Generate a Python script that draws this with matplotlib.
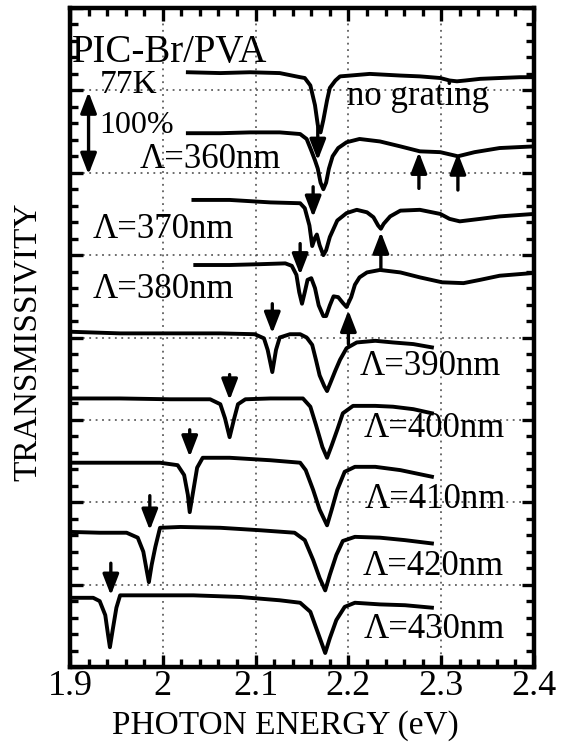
import matplotlib
matplotlib.use('Agg')
import matplotlib.pyplot as plt
from matplotlib.ticker import MultipleLocator

# spectra, stacked with offsets (1 unit on the y axis = 100 % transmission)
e_none = [2.027, 2.062, 2.094, 2.126, 2.148, 2.153, 2.159, 2.164, 2.167, 2.170, 2.173, 2.177, 2.180, 2.186,
	2.191, 2.202, 2.223, 2.256, 2.277, 2.299, 2.309, 2.317, 2.326, 2.342, 2.363, 2.385, 2.400]
t_none = [7.22, 7.21, 7.22, 7.21, 7.16, 7.15, 7.06, 6.82, 6.58, 6.49, 6.64, 6.88, 7.03, 7.12,
	7.17, 7.18, 7.20, 7.18, 7.17, 7.15, 7.12, 7.11, 7.12, 7.14, 7.15, 7.16, 7.16]

e_360 = [2.027, 2.062, 2.094, 2.126, 2.148, 2.155, 2.160, 2.164, 2.167, 2.170, 2.173, 2.176, 2.179, 2.183,
	2.189, 2.198, 2.212, 2.234, 2.256, 2.277, 2.299, 2.318, 2.336, 2.363, 2.400]
t_360 = [6.48, 6.48, 6.49, 6.49, 6.47, 6.41, 6.27, 6.15, 6.05, 5.88, 5.80, 5.88, 6.05, 6.20,
	6.30, 6.37, 6.41, 6.38, 6.32, 6.26, 6.25, 6.20, 6.25, 6.30, 6.32]

e_370 = [2.033, 2.072, 2.116, 2.148, 2.153, 2.158, 2.161, 2.164, 2.166, 2.169, 2.173, 2.176, 2.180, 2.188,
	2.198, 2.209, 2.220, 2.227, 2.232, 2.235, 2.238, 2.245, 2.256, 2.277, 2.299, 2.309, 2.320, 2.342,
	2.363, 2.400]
t_370 = [5.67, 5.67, 5.64, 5.63, 5.57, 5.36, 5.11, 5.21, 5.25, 5.12, 5.00, 5.06, 5.22, 5.42,
	5.51, 5.55, 5.52, 5.46, 5.36, 5.32, 5.38, 5.47, 5.54, 5.55, 5.50, 5.44, 5.41, 5.44,
	5.47, 5.50]

e_380 = [2.035, 2.072, 2.105, 2.132, 2.139, 2.144, 2.147, 2.150, 2.153, 2.156, 2.160, 2.164, 2.168, 2.173,
	2.176, 2.180, 2.184, 2.189, 2.194, 2.198, 2.203, 2.207, 2.212, 2.220, 2.234, 2.256, 2.277, 2.301,
	2.324, 2.342, 2.363, 2.396]
t_380 = [4.88, 4.88, 4.89, 4.90, 4.87, 4.76, 4.55, 4.41, 4.55, 4.70, 4.72, 4.60, 4.39, 4.26,
	4.26, 4.39, 4.50, 4.49, 4.42, 4.37, 4.49, 4.64, 4.73, 4.79, 4.82, 4.79, 4.73, 4.67,
	4.66, 4.70, 4.75, 4.78]

e_390 = [1.900, 1.954, 2.008, 2.062, 2.099, 2.109, 2.113, 2.118, 2.122, 2.126, 2.137, 2.148, 2.155, 2.161,
	2.165, 2.169, 2.174, 2.177, 2.181, 2.186, 2.191, 2.198, 2.209, 2.229, 2.248, 2.270, 2.290]
t_390 = [4.07, 4.05, 4.05, 4.05, 4.04, 3.99, 3.85, 3.58, 3.85, 4.00, 4.04, 4.04, 4.00, 3.91,
	3.73, 3.54, 3.41, 3.35, 3.46, 3.60, 3.73, 3.87, 3.94, 3.96, 3.94, 3.92, 3.88]

e_400 = [1.900, 1.954, 2.008, 2.051, 2.062, 2.067, 2.072, 2.077, 2.081, 2.089, 2.116, 2.151, 2.159, 2.165,
	2.172, 2.177, 2.182, 2.188, 2.194, 2.205, 2.229, 2.248, 2.270, 2.290]
t_400 = [3.26, 3.26, 3.25, 3.25, 3.19, 3.02, 2.79, 3.02, 3.19, 3.25, 3.26, 3.26, 3.16, 2.94,
	2.67, 2.54, 2.69, 2.88, 3.08, 3.17, 3.17, 3.16, 3.13, 3.08]

e_410 = [1.900, 1.954, 1.997, 2.016, 2.023, 2.027, 2.029, 2.033, 2.037, 2.043, 2.072, 2.116, 2.148, 2.154,
	2.162, 2.169, 2.177, 2.182, 2.188, 2.196, 2.207, 2.229, 2.256, 2.290]
t_410 = [2.48, 2.48, 2.48, 2.45, 2.33, 2.09, 1.88, 2.15, 2.42, 2.54, 2.54, 2.51, 2.48, 2.39,
	2.15, 1.91, 1.72, 1.91, 2.15, 2.37, 2.43, 2.43, 2.39, 2.31]

e_420 = [1.900, 1.932, 1.961, 1.973, 1.979, 1.983, 1.985, 1.988, 1.992, 1.997, 2.019, 2.062, 2.105, 2.142,
	2.153, 2.162, 2.169, 2.175, 2.180, 2.187, 2.194, 2.207, 2.234, 2.261, 2.290]
t_420 = [1.64, 1.63, 1.63, 1.57, 1.40, 1.15, 1.03, 1.24, 1.46, 1.69, 1.70, 1.69, 1.66, 1.63,
	1.54, 1.30, 1.08, 0.93, 1.12, 1.36, 1.53, 1.58, 1.57, 1.54, 1.50]

e_430 = [1.900, 1.925, 1.932, 1.938, 1.941, 1.943, 1.946, 1.950, 1.954, 1.979, 2.033, 2.083, 2.126, 2.148,
	2.159, 2.167, 2.175, 2.180, 2.187, 2.196, 2.207, 2.234, 2.261, 2.290]
t_430 = [0.84, 0.84, 0.80, 0.63, 0.39, 0.24, 0.45, 0.72, 0.87, 0.87, 0.87, 0.85, 0.81, 0.78,
	0.67, 0.42, 0.17, 0.35, 0.57, 0.73, 0.78, 0.76, 0.75, 0.72]

curve_labels = ['no grating', 'Λ=360nm', 'Λ=370nm', 'Λ=380nm', 'Λ=390nm',
	'Λ=400nm', 'Λ=410nm', 'Λ=420nm', 'Λ=430nm']

# grating-mode arrows: energy, tail, tip
down_e = [2.167, 2.162, 2.148, 2.118, 2.072, 2.029, 1.986, 1.944]
down_tail = [6.56, 5.83, 5.14, 4.41, 3.55, 2.88, 2.08, 1.26]
down_tip = [6.15, 5.46, 4.76, 4.05, 3.24, 2.55, 1.66, 0.87]
up_e = [2.276, 2.318, 2.235, 2.200]
up_tail = [5.81, 5.79, 4.83, 3.92]
up_tip = [6.25, 6.24, 5.28, 4.33]

x_ticks = [1.9, 2.0, 2.1, 2.2, 2.3, 2.4]
x_ticklabels = ['1.9', '2', '2.1', '2.2', '2.3', '2.4']


def arrow(ax, x, y0, y1, style='-|>'):
	ax.annotate('', xy=(x, y1), xytext=(x, y0),
		arrowprops=dict(arrowstyle=style + ',head_length=0.7,head_width=0.27',
			mutation_scale=18, lw=2.4, color='k', shrinkA=0, shrinkB=0))


def main():
	plt.rcParams['font.family'] = ['Liberation Serif', 'DejaVu Serif']
	fig = plt.figure(figsize=(5.67, 7.47), dpi=100)
	ax = fig.add_axes([70 / 567, 1 - 667 / 747, 464 / 567, 659 / 747])

	curves = [(e_none, t_none), (e_360, t_360), (e_370, t_370), (e_380, t_380), (e_390, t_390),
		(e_400, t_400), (e_410, t_410), (e_420, t_420), (e_430, t_430)]
	for e, t in curves:
		ax.plot(e, t, color='k', lw=2.8, solid_joinstyle='round', zorder=3)

	for x, y0, y1 in zip(down_e, down_tail, down_tip):
		arrow(ax, x, y0, y1)
	for x, y0, y1 in zip(up_e, up_tail, up_tip):
		arrow(ax, x, y0, y1)
	arrow(ax, 1.920, 5.98, 6.98, style='<|-|>')

	# label positions (left edge, baseline)
	label_pos = [(2.198, 6.82), (1.975, 6.06), (1.924, 5.21), (1.924, 4.48), (2.212, 3.54),
		(2.216, 2.79), (2.218, 1.93), (2.215, 1.12), (2.216, 0.35)]
	for text, (x, y) in zip(curve_labels, label_pos):
		ax.text(x, y, text, fontsize=25, ha='left', va='baseline', zorder=4)
	ax.text(1.902, 7.34, 'PIC-Br/PVA', fontsize=28, ha='left', va='baseline')
	ax.text(1.932, 6.97, '77K', fontsize=24, ha='left', va='baseline')
	ax.text(1.932, 6.48, '100%', fontsize=23, ha='left', va='baseline')

	ax.set_xlim(1.9, 2.4)
	ax.set_ylim(0, 8)
	ax.set_xticks(x_ticks)
	ax.set_xticklabels(x_ticklabels)
	ax.set_yticks(range(0, 9))
	ax.xaxis.set_minor_locator(MultipleLocator(0.02))
	ax.yaxis.set_minor_locator(MultipleLocator(0.2))
	ax.tick_params(which='both', direction='in', top=True, right=True, width=2.4, labelleft=False)
	ax.tick_params(which='major', length=9, labelsize=26, pad=2)
	ax.tick_params(which='minor', length=5.5)
	for s in ax.spines.values():
		s.set_linewidth(3.2)
	ax.grid(True, which='major', color='#444444', lw=1.1, linestyle=(0, (1.2, 3)))
	ax.set_axisbelow(True)

	fig.text(285 / 567, 1 - 726 / 747, 'PHOTON ENERGY (eV)', fontsize=24, ha='center', va='center')
	fig.text(28 / 567, 1 - 342 / 747, 'TRANSMISSIVITY', fontsize=24, rotation=90, ha='center', va='center')

	fig.savefig('out.png', dpi=100)
	plt.close(fig)


if __name__ == '__main__':
	main()
